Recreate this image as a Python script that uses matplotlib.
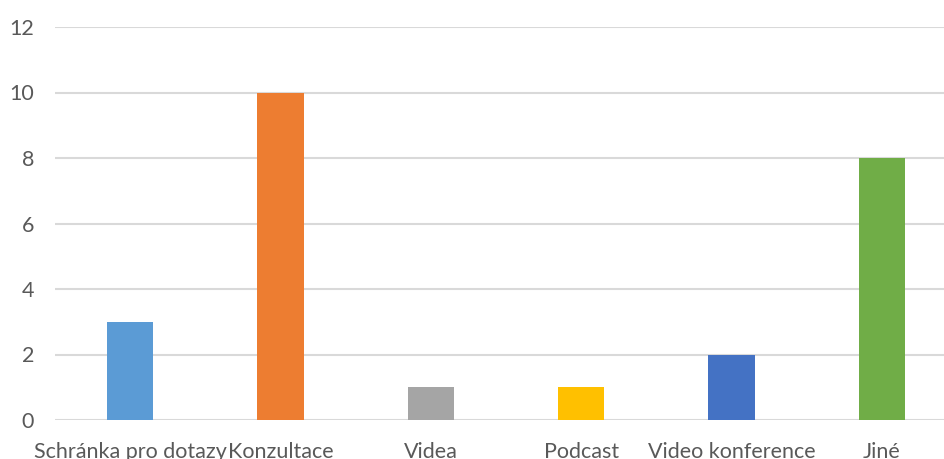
import matplotlib.pyplot as plt

# kategorie a pocty odpovedi
kategorie = ["Schránka pro dotazy", "Konzultace", "Videa", "Podcast",
             "Video konference", "Jiné"]
pocty = [3, 10, 1, 1, 2, 8]
barvy = ["#5B9BD5", "#ED7D31", "#A5A5A5", "#FFC000", "#4472C4", "#70AD47"]
osa_y = [0, 2, 4, 6, 8, 10, 12]

plt.rcParams['font.family'] = ['Lato', 'DejaVu Sans']

fig = plt.figure(figsize=(9.45, 4.59), dpi=100)
ax = fig.add_axes([55 / 945, 39 / 459, 902 / 945, (420 - 27) / 459])

x = range(len(kategorie))
ax.bar(x, pocty, width=0.31, color=barvy, zorder=3)

ax.set_xlim(-0.5, len(kategorie) - 0.5)
ax.set_ylim(0, 12)
ax.set_yticks(osa_y)
ax.set_xticks(list(x))
ax.set_xticklabels(kategorie)

ax.grid(axis='y', color='#D9D9D9', linewidth=1.5, zorder=0)
for s in ax.spines.values():
    s.set_visible(False)
ax.tick_params(axis='both', length=0, colors='#595959', labelsize=15.5)
ax.tick_params(axis='x', pad=16)
ax.tick_params(axis='y', pad=15)

fig.savefig("out.png", dpi=100)
